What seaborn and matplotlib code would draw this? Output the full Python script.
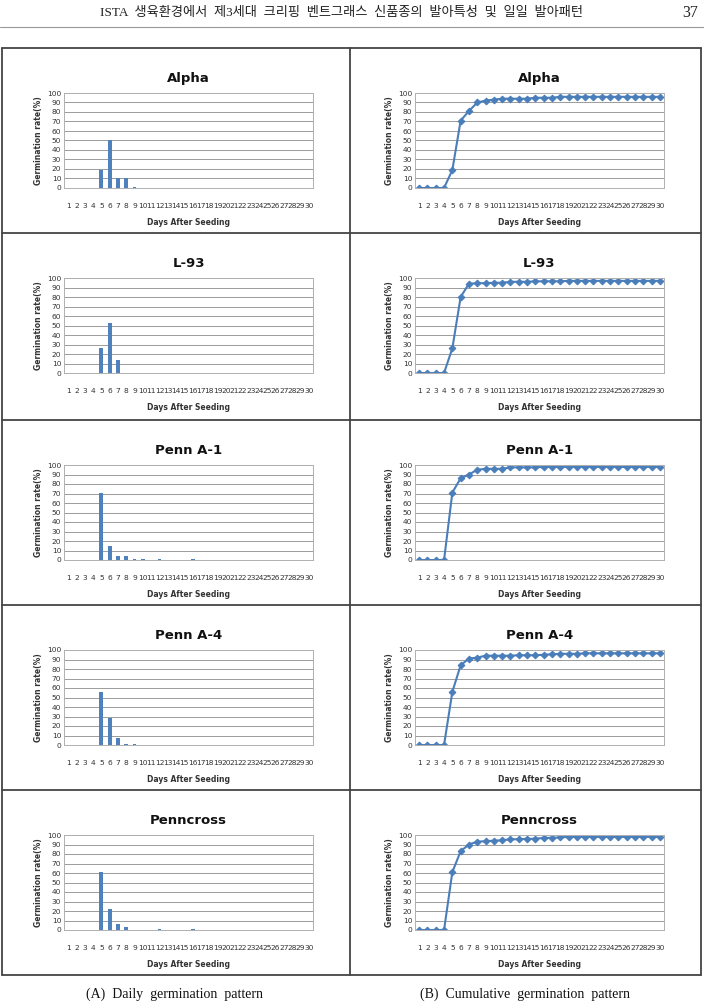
import numpy as np
import pandas as pd
import matplotlib
matplotlib.use('Agg')
import matplotlib.pyplot as plt
from matplotlib.lines import Line2D
import seaborn as sns

# ---- data ----
days = list(range(1, 31))
cultivars = ['Alpha', 'L-93', 'Penn A-1', 'Penn A-4', 'Penncross']

daily_alpha = [0, 0, 0, 0, 19, 51, 10, 10, 1, 0.5, 0.5, 0, 0.5, 0, 0.5,
               0, 0, 0.5, 0, 0, 0, 0, 0, 0, 0, 0, 0, 0, 0, 0]
daily_l93 = [0, 0, 0, 0, 26, 53, 14, 0.5, 0, 0.5, 0.5, 0.5, 0, 0, 0.5,
             0, 0, 0, 0.5, 0, 0, 0, 0, 0.5, 0, 0, 0, 0, 0, 0]
daily_a1 = [0, 0, 0, 0, 71, 15, 4, 4.5, 1, 1, 0, 1.5, 0, 0, 0,
            1, 0, 0, 0, 0, 0, 0, 0, 0, 0, 0, 0, 0, 0, 0]
daily_a4 = [0, 0, 0, 0, 56, 28, 7, 1.5, 1.5, 0.5, 0.5, 0, 0.5, 0, 0,
            0.5, 0.5, 0.5, 0.5, 0.5, 0.5, 0, 0, 0, 0, 0, 0, 0, 0, 0]
daily_pc = [0, 0, 0, 0, 61, 22, 6.5, 3.5, 0.5, 0.5, 0.5, 1, 0, 0.5, 0,
            1, 0, 0.5, 0.5, 0.5, 0, 0, 0, 0, 0, 0, 0, 0, 0, 0]

cum_alpha = [0, 0, 0, 0, 19, 71, 81, 90, 92, 93, 94, 94, 94, 94, 95,
             95, 95, 96, 96, 96, 96, 96, 96, 96, 96, 96, 96, 96, 96, 96]
cum_l93 = [0, 0, 0, 0, 26, 80, 94, 94.5, 94.5, 95, 95, 96, 96, 96, 96.5,
           96.5, 96.5, 96.5, 97, 97, 97, 97, 97, 97, 97, 97, 97, 97, 97, 97]
cum_a1 = [0, 0, 0, 0, 71, 86, 90, 95, 96, 96, 96, 97.5, 97.5, 97.5, 97.5,
          98, 98, 98, 98, 98, 98, 98, 98, 98, 98, 98, 98, 98, 98, 98]
cum_a4 = [0, 0, 0, 0, 56, 84, 91, 92, 94, 94, 94, 94, 94.5, 94.5, 94.5,
          95, 95.5, 96, 96, 96, 96.5, 96.5, 96.5, 96.5, 96.5, 96.5, 96.5, 96.5, 96.5, 96.5]
cum_pc = [0, 0, 0, 0, 61, 83, 90, 93, 93.5, 94, 94.5, 95.5, 95.5, 96, 96,
          97, 97, 97.5, 98, 98, 98, 98, 98, 98, 98, 98, 98, 98, 98, 98]

daily = [daily_alpha, daily_l93, daily_a1, daily_a4, daily_pc]
cumulative = [cum_alpha, cum_l93, cum_a1, cum_a4, cum_pc]

header = 'ISTA  생육환경에서  제3세대  크리핑  벤트그래스  신품종의  발아특성  및  일일  발아패턴'
captions = ['(A)  Daily  germination  pattern', '(B)  Cumulative  germination  pattern']

sns.set_theme(style='white')
plt.rcParams['font.family'] = ['DejaVu Sans', 'Noto Sans CJK KR']

W, H = 704, 1007
fig = plt.figure(figsize=(W / 100, H / 100), dpi=100)

bar_col = '#4F81BD'
line_col = '#4A7EBB'
serif = ['Liberation Serif', 'Noto Sans CJK KR']


def fx(px):
    return px / W


def fy(py):
    return 1 - py / H


# header
fig.text(fx(342), fy(13), header, ha='center', va='center', fontsize=9.5,
         family=serif, color='#222222')
fig.text(fx(690), fy(13), '37', ha='center', va='center', fontsize=11.5,
         family=serif, color='#222222')
fig.add_artist(Line2D([0, 1], [fy(27), fy(27)], color='#999999', lw=0.8))

# table frame
rows_top = [48, 233, 420, 605, 790]
bottom = 975
frame = dict(color='#444444', lw=1.3)
fig.add_artist(Line2D([fx(2), fx(701)], [fy(48), fy(48)], **frame))
fig.add_artist(Line2D([fx(2), fx(701)], [fy(bottom), fy(bottom)], **frame))
fig.add_artist(Line2D([fx(2), fx(2)], [fy(48), fy(bottom)], **frame))
fig.add_artist(Line2D([fx(701), fx(701)], [fy(48), fy(bottom)], **frame))
fig.add_artist(Line2D([fx(350), fx(350)], [fy(48), fy(bottom)], **frame))
for yt in rows_top[1:]:
    fig.add_artist(Line2D([fx(2), fx(701)], [fy(yt), fy(yt)], **frame))


def style_axes(ax, title):
    ax.set_ylim(0, 100)
    ax.set_yticks(range(0, 101, 10))
    ax.yaxis.grid(True, color='#8c8c8c', lw=0.6)
    ax.xaxis.grid(False)
    ax.set_axisbelow(True)
    for s in ax.spines.values():
        s.set_color('#b0b0b0')
        s.set_linewidth(0.7)
    ax.tick_params(axis='both', length=0, labelsize=5.4, colors='#333333')
    ax.tick_params(axis='x', pad=11)
    ax.tick_params(axis='y', pad=2)
    ax.set_title(title, fontsize=9.5, fontweight='bold', pad=8, color='#111111')
    ax.set_ylabel('Germination rate(%)', fontsize=5.5, fontweight='bold',
                  color='#333333', labelpad=3)
    ax.set_xlabel('Days After Seeding', fontsize=5.5, fontweight='bold',
                  color='#333333', labelpad=6)


for i, name in enumerate(cultivars):
    y0 = rows_top[i]
    top, bot = y0 + 45, y0 + 140
    # daily (bar) panel
    ax = fig.add_axes([fx(64), fy(bot), fx(313 - 64), (bot - top) / H])
    df = pd.DataFrame({'day': days, 'rate': daily[i]})
    sns.barplot(data=df, x='day', y='rate', color=bar_col, width=0.45,
                saturation=1, linewidth=0, ax=ax)
    ax.set_xlim(-0.5, 29.5)
    style_axes(ax, name)

    # cumulative (line) panel
    ax2 = fig.add_axes([fx(415), fy(bot), fx(664 - 415), (bot - top) / H])
    dfc = pd.DataFrame({'day': days, 'rate': cumulative[i]})
    sns.lineplot(data=dfc, x='day', y='rate', color=line_col, lw=1.5,
                 marker='D', markersize=3.4, markeredgecolor=line_col, ax=ax2)
    ax2.set_xlim(0.5, 30.5)
    ax2.set_xticks(days)
    ax2.set_xticklabels([str(d) for d in days])
    style_axes(ax2, name)

# captions
fig.text(fx(175), fy(994), captions[0], ha='center', va='center', fontsize=10,
         family=serif, color='#111111')
fig.text(fx(525), fy(994), captions[1], ha='center', va='center', fontsize=10,
         family=serif, color='#111111')

fig.savefig('out.png', dpi=100)
